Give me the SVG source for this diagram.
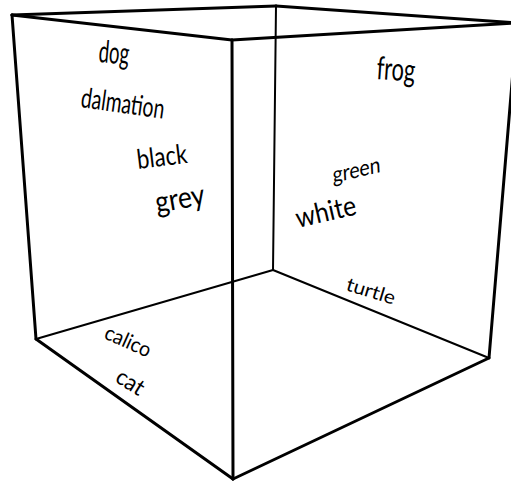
<svg xmlns="http://www.w3.org/2000/svg" width="511" height="483" viewBox="0 0 511 483">
<style>
.e{stroke:#000;fill:none;stroke-linecap:round;stroke-linejoin:round}
.f{stroke-width:3}
.b{stroke-width:2}
text{font-family:Lato,"Liberation Sans",sans-serif;fill:#000}
</style>
<rect width="511" height="483" fill="#fff"/>
<g id="edges">
<line class="e b" x1="276" y1="6" x2="273" y2="270"/>
<line class="e b" x1="273" y1="270" x2="36" y2="339"/>
<line class="e b" x1="273" y1="270" x2="489" y2="358"/>
<line class="e f" x1="12" y1="15" x2="276" y2="6"/>
<line class="e f" x1="276" y1="6" x2="517" y2="23"/>
<line class="e f" x1="12" y1="15" x2="232" y2="40"/>
<line class="e f" x1="232" y1="40" x2="517" y2="23"/>
<line class="e f" x1="12" y1="15" x2="36" y2="339"/>
<line class="e f" x1="232" y1="40" x2="233" y2="479"/>
<line class="e f" x1="517" y1="23" x2="489" y2="358"/>
<line class="e f" x1="36" y1="339" x2="233" y2="479"/>
<line class="e f" x1="233" y1="479" x2="489" y2="358"/>
</g>
<g id="dog"><text font-size="31" transform="translate(98,62) rotate(5) scale(0.6,1)">dog</text></g>
<g id="dalmation"><text font-size="28" transform="translate(80,107) rotate(8) scale(0.69,1)">dalmation</text></g>
<g id="black"><text font-size="27" transform="translate(138,169) rotate(-7) scale(0.82,1)">black</text></g>
<g id="grey"><text font-size="30" transform="translate(157,213) rotate(-10) scale(0.88,1)">grey</text></g>
<g id="frog"><text font-size="32" transform="translate(376,79) rotate(4) scale(0.68,1)">frog</text></g>
<g id="green"><text font-size="22" transform="translate(333,183) rotate(-13) skewX(-10) scale(0.9,1)">green</text></g>
<g id="white"><text font-size="28" transform="translate(298,228) rotate(-13) scale(0.89,1)">white</text></g>
<g id="turtle"><text font-size="19" transform="translate(345,290) rotate(17) scale(1.1,1)">turtle</text></g>
<g id="calico"><text font-size="21" transform="translate(103,338) rotate(24) scale(0.93,1)">calico</text></g>
<g id="cat"><text font-size="23" transform="translate(114,381) rotate(32) scale(0.95,1)">cat</text></g>
</svg>
